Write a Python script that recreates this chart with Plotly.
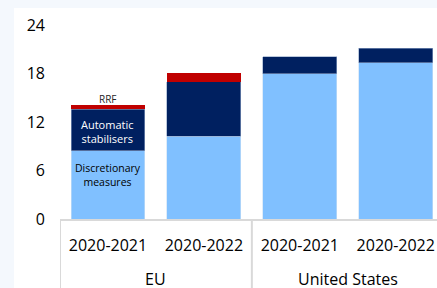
import plotly.graph_objects as go

regions = ["EU", "United States"]
periods = ["2020-2021", "2020-2022", "2020-2021", "2020-2022"]
discretionary = [8.45, 10.25, 17.95, 19.35]
automatic = [5.1, 6.7, 2.1, 1.75]
rrf = [0.5, 1.1, 0, 0]
y_ticks = [0, 6, 12, 18, 24]

FONT = "Open Sans"
xpos = list(range(len(periods)))

fig = go.Figure()
fig.add_trace(go.Bar(x=xpos, y=discretionary, name="Discretionary measures",
                     marker=dict(color="#80c0ff", line=dict(color="#c9dff5", width=0.6))))
fig.add_trace(go.Bar(x=xpos, y=automatic, name="Automatic stabilisers",
                     marker=dict(color="#002060", line=dict(color="#8ea3c4", width=0.6))))
fig.add_trace(go.Bar(x=xpos, y=rrf, name="RRF",
                     marker=dict(color="#c00000", line=dict(width=0))))

PLOT_H = 194.3
shapes = [dict(type="rect", xref="paper", yref="paper",
               x0=(14 - 60) / 377, x1=1.02, y0=-0.4, y1=(219.3 - 8) / PLOT_H,
               fillcolor="white", line=dict(width=0), layer="below")]
# group dividers below the axis
for xd in [-0.5, 1.5]:
    shapes.append(dict(type="line", xref="x", yref="paper", x0=xd, x1=xd,
                       y0=0, y1=-0.4, line=dict(color="#d9d9d9", width=2)))

fig.update_layout(
    barmode="stack",
    bargap=0.23,
    width=437, height=288,
    margin=dict(l=60, r=0, t=25, b=69),
    paper_bgcolor="#f4f8fd",
    plot_bgcolor="white",
    showlegend=False,
    hovermode=False,
    font=dict(family=FONT, size=16, color="#000000"),
    shapes=shapes,
)
fig.update_xaxes(
    range=[-0.5, 3.43],
    tickvals=xpos, ticktext=periods,
    showline=True, linecolor="#d9d9d9", linewidth=2,
    ticks="", showgrid=False, zeroline=False, ticklabelstandoff=11,
    tickfont=dict(family=FONT, size=16, color="#000000"),
)
fig.update_yaxes(
    range=[0, 24], tickvals=y_ticks, showgrid=False, zeroline=False,
    showline=False, ticks="", ticklabelstandoff=14,
    tickfont=dict(family=FONT, size=16, color="#000000"),
)

# group labels under the axis
for i, g in enumerate(regions):
    fig.add_annotation(x=2 * i + 0.5, y=(219.3 - 279) / PLOT_H, xref="x", yref="paper",
                       text=g, showarrow=False, yanchor="middle",
                       font=dict(family=FONT, size=16, color="#000000"))

fig.add_annotation(x=0, y=14.8, text="RRF", showarrow=False,
                   font=dict(family=FONT, size=10, color="#262626"))
fig.add_annotation(x=0, y=10.8, text="Automatic<br>stabilisers", showarrow=False,
                   font=dict(family=FONT, size=11, color="white"))
fig.add_annotation(x=0, y=5.4, text="Discretionary<br>measures", showarrow=False,
                   font=dict(family=FONT, size=10.5, color="#000000"))

fig.write_html("out.html", config={"displayModeBar": False, "staticPlot": True},
               post_script="document.body.style.margin='0';document.body.style.overflow='hidden';")
